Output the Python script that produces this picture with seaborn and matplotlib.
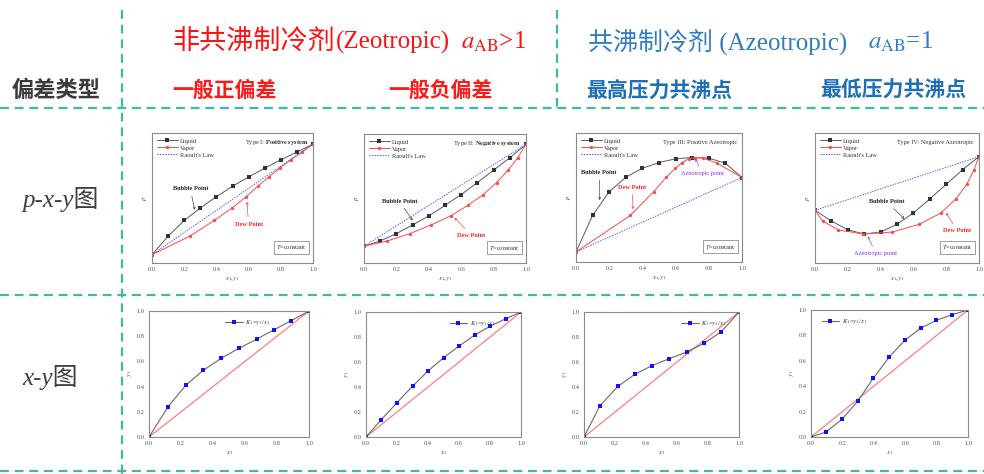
import matplotlib
matplotlib.use("Agg")
import matplotlib.pyplot as plt
import seaborn as sns
from matplotlib.lines import Line2D

sns.set_theme(style="white")
plt.rcParams["font.family"] = ["Liberation Serif", "Noto Sans CJK SC", "DejaVu Sans"]
plt.rcParams["mathtext.fontset"] = "stix"

W, H = 984, 474

# ---------------- data ----------------
# liquid mole fraction of component 1 (p-x-y diagrams)
x_liquid = [0.0, 0.1, 0.2, 0.3, 0.4, 0.5, 0.6, 0.7, 0.8, 0.9, 1.0]

# Type I: positive deviation (relative pressure, vapour composition)
p_type1 = [0.064, 0.206, 0.327, 0.423, 0.510, 0.590, 0.662, 0.729, 0.794, 0.853, 0.915]
y_type1 = [0.0, 0.234, 0.387, 0.497, 0.586, 0.656, 0.725, 0.793, 0.861, 0.932, 1.0]

# Type II: negative deviation
p_type2 = [0.130, 0.171, 0.228, 0.295, 0.365, 0.446, 0.531, 0.624, 0.720, 0.816, 0.920]
y_type2 = [0.0, 0.144, 0.284, 0.414, 0.535, 0.640, 0.737, 0.819, 0.889, 0.949, 1.0]

# Type III: maximum-pressure azeotrope
p_type3 = [0.078, 0.361, 0.545, 0.657, 0.727, 0.771, 0.800, 0.810, 0.805, 0.766, 0.655]
y_type3 = [0.0, 0.327, 0.468, 0.544, 0.598, 0.639, 0.679, 0.719, 0.765, 0.849, 1.0]

# Type IV: minimum-pressure azeotrope
p_type4 = [0.405, 0.323, 0.255, 0.223, 0.238, 0.298, 0.385, 0.493, 0.605, 0.718, 0.818]
y_type4 = [0.0, 0.046, 0.141, 0.295, 0.471, 0.636, 0.768, 0.859, 0.925, 0.970, 1.0]

# x-y diagrams (K1 = y1/x1)
xy1_x = [0.0, 0.12, 0.229, 0.339, 0.451, 0.561, 0.672, 0.78, 0.89, 1.0]
xy1_y = [0.0, 0.242, 0.41, 0.529, 0.624, 0.703, 0.776, 0.85, 0.924, 1.0]
xy2_x = [0.0, 0.099, 0.2, 0.3, 0.401, 0.502, 0.603, 0.702, 0.803, 0.903, 1.0]
xy2_y = [0.0, 0.139, 0.275, 0.406, 0.529, 0.636, 0.730, 0.816, 0.888, 0.947, 1.0]
xy3_x = [0.0, 0.103, 0.219, 0.327, 0.439, 0.551, 0.662, 0.774, 0.886, 1.0]
xy3_y = [0.0, 0.251, 0.405, 0.501, 0.571, 0.627, 0.680, 0.749, 0.843, 1.0]
xy4_x = [0.0, 0.095, 0.197, 0.298, 0.397, 0.499, 0.598, 0.698, 0.799, 0.898, 1.0]
xy4_y = [0.0, 0.039, 0.139, 0.283, 0.463, 0.631, 0.762, 0.856, 0.919, 0.963, 1.0]

type_titles = [
    r"Type I: $\mathbf{Positive\ system}$",
    r"Type II: $\mathbf{Negative\ system}$",
    "Type III: Positive Azeotropic",
    "Type IV: Negative Azeotropic",
]
x_ticks = [0.0, 0.2, 0.4, 0.6, 0.8, 1.0]
tick_labels = ["0.0", "0.2", "0.4", "0.6", "0.8", "1.0"]

# ---------------- figure ----------------
fig = plt.figure(figsize=(W / 100, H / 100), dpi=100)
fig.patch.set_facecolor("white")


def box(l, t, r, b):
    return [l / W, 1 - b / H, (r - l) / W, (b - t) / H]


def style_axes(ax):
    for s in ax.spines.values():
        s.set_color("#8a8a8a")
        s.set_linewidth(0.8)
    ax.tick_params(axis="both", labelsize=4.6, length=1.5, width=0.4,
                   colors="#555555", pad=1.5, direction="out")
    ax.set_facecolor("white")


PC_LIQ = "#5a5a5a"
PC_VAP = "#ff4a4a"
PC_RAO = "#5a5aff"

pxy_boxes = [box(152, 133, 313, 263), box(364, 134, 526, 263),
             box(576, 133, 742, 262), box(815, 133, 979, 263)]
pxy_data = [(p_type1, y_type1), (p_type2, y_type2), (p_type3, y_type3), (p_type4, y_type4)]

pxy_axes = []
for i, (rect, (p, yv)) in enumerate(zip(pxy_boxes, pxy_data)):
    ax = fig.add_axes(rect)
    sns.lineplot(x=x_liquid, y=p, ax=ax, color=PC_LIQ, lw=0.7, marker="s",
                 markersize=2.5, markeredgewidth=0, markerfacecolor="#333333",
                 sort=False, label="Liquid", legend=False)
    sns.lineplot(x=yv, y=p, ax=ax, color=PC_VAP, lw=0.7, marker="o",
                 markersize=2.4, markeredgewidth=0, sort=False, label="Vapor", legend=False)
    sns.lineplot(x=[x_liquid[0], x_liquid[-1]], y=[p[0], p[-1]], ax=ax,
                 color=PC_RAO, lw=0.7, linestyle=(0, (1.5, 1.2)), label="Raoult's Law",
                 legend=False)
    ax.set_xlim(0, 1)
    ax.set_ylim(0, 1)
    ax.set_xticks(x_ticks)
    ax.set_xticklabels(tick_labels)
    ax.set_yticks([])
    ax.set_xlabel("$x_1$,$y_1$", fontsize=4.8, labelpad=2, color="#444444")
    ax.set_ylabel("$p$", fontsize=4.8, labelpad=2, color="#444444")
    style_axes(ax)
    ax.legend(loc="upper left", fontsize=4.6, frameon=False, handlelength=3.2,
              handletextpad=0.4, borderaxespad=0.4, labelspacing=0.25,
              labelcolor="#333333")
    ax.text(0.97, 0.93, type_titles[i], transform=ax.transAxes, ha="right",
            va="center", fontsize=4.6, color="#333333")
    ax.text(0.96, 0.12, "$T$=constant", transform=ax.transAxes, ha="right",
            va="center", fontsize=4.6, color="#333333",
            bbox=dict(boxstyle="square,pad=0.35", fc="white", ec="#777777", lw=0.5))
    pxy_axes.append(ax)

arrow_k = dict(arrowstyle="->", lw=0.4, shrinkA=1, shrinkB=0, mutation_scale=4)


def note(ax, text, xy, xytext, color):
    ax.annotate(text, xy=xy, xytext=xytext, fontsize=4.6, fontweight="bold",
                color=color, ha="center", va="center",
                arrowprops=dict(color=color, **arrow_k))


BLK = "#222222"
RED = "#ff2020"
PUR = "#8a2be2"
note(pxy_axes[0], "Bubble Point", (0.265, 0.41), (0.238, 0.57), BLK)
note(pxy_axes[0], "Dew Point", (0.59, 0.47), (0.60, 0.30), RED)
note(pxy_axes[1], "Bubble Point", (0.30, 0.33), (0.218, 0.48), BLK)
note(pxy_axes[1], "Dew Point", (0.56, 0.35), (0.663, 0.215), RED)
note(pxy_axes[2], "Bubble Point", (0.143, 0.48), (0.14, 0.693), BLK)
note(pxy_axes[2], "Dew Point", (0.343, 0.41), (0.34, 0.577), RED)
pxy_axes[2].annotate("Azeotropic point", xy=(0.72, 0.80), xytext=(0.76, 0.688),
                     fontsize=4.6, color=PUR, ha="center", va="center",
                     arrowprops=dict(color=PUR, **arrow_k))
note(pxy_axes[3], "Bubble Point", (0.545, 0.34), (0.436, 0.47), BLK)
note(pxy_axes[3], "Dew Point", (0.80, 0.385), (0.867, 0.25), RED)
pxy_axes[3].annotate("Azeotropic point", xy=(0.323, 0.205), xytext=(0.37, 0.075),
                     fontsize=4.6, color=PUR, ha="center", va="center",
                     arrowprops=dict(color=PUR, **arrow_k))

# x-y diagrams
xy_boxes = [box(149, 311, 309, 437), box(366, 312, 521, 437),
            box(584, 312, 739, 437), box(811, 310, 968, 437)]
xy_data = [(xy1_x, xy1_y), (xy2_x, xy2_y), (xy3_x, xy3_y), (xy4_x, xy4_y)]
legend_x = [0.44, 0.5, 0.59, 0.03]
for rect, (xs, ys), lx in zip(xy_boxes, xy_data, legend_x):
    ax = fig.add_axes(rect)
    sns.lineplot(x=[0, 1], y=[0, 1], ax=ax, color="#ff7f7f", lw=0.9, legend=False)
    sns.lineplot(x=xs, y=ys, ax=ax, color="#6a6a6a", lw=0.8, marker="s",
                 markersize=2.6, markeredgewidth=0, markerfacecolor="#1010ff",
                 sort=False, label="$K_1$=$y_1$/$x_1$", legend=False)
    ax.set_xlim(0, 1)
    ax.set_ylim(0, 1)
    ax.set_xticks(x_ticks)
    ax.set_xticklabels(tick_labels)
    ax.set_yticks(x_ticks)
    ax.set_yticklabels(tick_labels)
    ax.set_xlabel("$x_1$", fontsize=4.8, labelpad=2, color="#444444")
    ax.set_ylabel("$y_1$", fontsize=4.8, labelpad=2, color="#444444")
    style_axes(ax)
    h, l = ax.get_legend_handles_labels()
    ax.legend(h[-1:], l[-1:], loc="upper left", bbox_to_anchor=(lx, 0.99),
              fontsize=4.8, frameon=False, handlelength=2.6, handletextpad=0.4,
              labelcolor="#333333")

# ---------------- headings ----------------
RED_T = "#ff1010"
BLUE_T = "#2f7cc0"
cjk = ["Liberation Serif", "Noto Sans CJK SC", "DejaVu Sans"]
fig.text(172 / W, 1 - 42 / H, "非共沸制冷剂", fontsize=19.5, color=RED_T,
         family=["Noto Sans CJK SC"], ha="left", va="center")
fig.text(336 / W, 1 - 42 / H, "(Zeotropic)", fontsize=18, color=RED_T,
         family=cjk, ha="left", va="center")
fig.text(461 / W, 1 - 42 / H, r"$a_{\mathrm{AB}}$>1", fontsize=18, color=RED_T,
         family=cjk, ha="left", va="center")
fig.text(588 / W, 1 - 42 / H, "共沸制冷剂 (Azeotropic)", fontsize=18, color=BLUE_T,
         family=cjk, ha="left", va="center")
fig.text(868 / W, 1 - 42 / H, r"$a_{\mathrm{AB}}$=1", fontsize=18, color=BLUE_T,
         family=cjk, ha="left", va="center")

sub_font = ["Noto Sans CJK SC", "DejaVu Sans"]
for txt, x0, col, fs in [("偏差类型", 12, "#3a3a3a", 16), ("一般正偏差", 172, "#ff1a1a", 15),
                         ("一般负偏差", 388, "#ff1a1a", 15), ("最高压力共沸点", 586, "#1f6fb8", 15),
                         ("最低压力共沸点", 820, "#1f6fb8", 15)]:
    fig.text(x0 / W, 1 - 90 / H, txt, fontsize=fs, fontweight="bold", color=col,
             family=sub_font, ha="left", va="center")

fig.text(22 / W, 1 - 200 / H, "p-x-y图", fontsize=18, style="italic", color="#404040",
         family=cjk, ha="left", va="center")
fig.text(22 / W, 1 - 377 / H, "x-y图", fontsize=18, style="italic", color="#404040",
         family=cjk, ha="left", va="center")

# ---------------- dashed grid ----------------
TEAL = "#3dbb9c"
dash = dict(color=TEAL, lw=1.6, linestyle=(0, (4, 2.6)))
for yy in (108, 295, 471):
    fig.add_artist(Line2D([0, 1], [1 - yy / H, 1 - yy / H], **dash))
fig.add_artist(Line2D([122 / W, 122 / W], [1 - 10 / H, 0], **dash))
fig.add_artist(Line2D([557 / W, 557 / W], [1 - 10 / H, 1 - 108 / H], **dash))

fig.savefig("out.png", dpi=100, facecolor="white")
